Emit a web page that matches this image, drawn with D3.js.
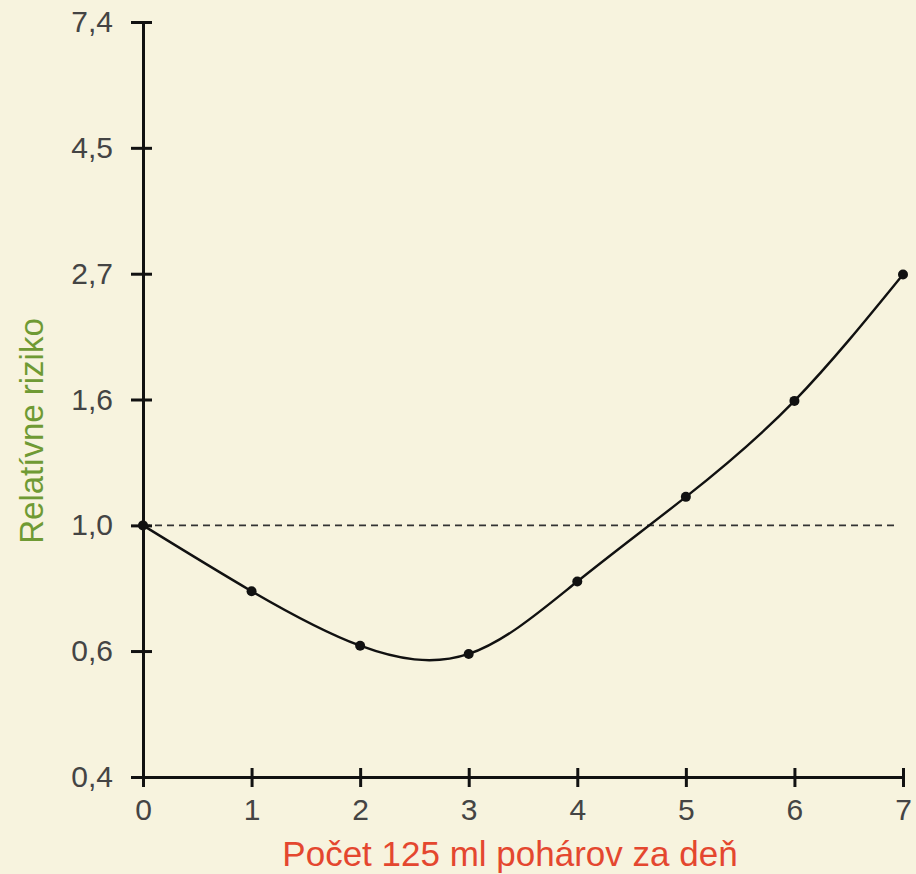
<!DOCTYPE html>
<html><head><meta charset="utf-8">
<script src="https://cdn.jsdelivr.net/npm/d3@7"></script>
<style>
html,body{margin:0;padding:0;background:#f7f3de;}
svg{display:block;}
</style></head>
<body>
<svg id="chart" width="916" height="874"></svg>
<script>
const glasses = [0, 1, 2, 3, 4, 5, 6, 7];
const relativeRisk = [1.0, 0.77, 0.62, 0.60, 0.80, 1.12, 1.64, 2.71];
const yTickValues = [0.368, 0.607, 1.0, 1.649, 2.718, 4.482, 7.389];
const yTickLabels = ["0,4", "0,6", "1,0", "1,6", "2,7", "4,5", "7,4"];
const xTickLabels = ["0", "1", "2", "3", "4", "5", "6", "7"];
const referenceRisk = 1.0;

const svg = d3.select("#chart");
const font = "'Liberation Sans', Arial, sans-serif";

const x = d3.scaleLinear().domain([0, 7]).range([143, 903]);
const y = d3.scaleLog().domain([yTickValues[0], yTickValues[yTickValues.length - 1]]).range([777, 22]);

svg.append("rect").attr("width", 916).attr("height", 874).attr("fill", "#f7f3de");

svg.append("line")
  .attr("x1", x(0)).attr("x2", 898)
  .attr("y1", y(referenceRisk)).attr("y2", y(referenceRisk))
  .attr("stroke", "#333").attr("stroke-width", 1.6)
  .attr("stroke-dasharray", "7,5");

const line = d3.line()
  .x((d, i) => x(glasses[i]))
  .y(d => y(d))
  .curve(d3.curveNatural);
svg.append("path")
  .datum(relativeRisk)
  .attr("d", line)
  .attr("fill", "none").attr("stroke", "#111").attr("stroke-width", 2.4);

svg.selectAll("circle.pt").data(relativeRisk).enter().append("circle")
  .attr("class", "pt")
  .attr("cx", (d, i) => x(glasses[i]))
  .attr("cy", d => y(d))
  .attr("r", 5).attr("fill", "#111");

const yAxis = d3.axisLeft(y)
  .tickValues(yTickValues)
  .tickFormat((d, i) => yTickLabels[i])
  .tickSizeInner(12).tickSizeOuter(0).tickPadding(14);
const gy = svg.append("g").attr("transform", `translate(${x(0)},0)`).call(yAxis);
gy.select(".domain").attr("stroke", "#111").attr("stroke-width", 3);
gy.selectAll(".tick line").attr("stroke", "#111").attr("stroke-width", 3).attr("x2", 9).attr("x1", -12);
gy.selectAll(".tick text").attr("font-family", font).attr("font-size", 30).attr("fill", "#444").attr("x", -30);

const xAxis = d3.axisBottom(x)
  .tickValues(glasses)
  .tickFormat((d, i) => xTickLabels[i])
  .tickSizeInner(10).tickSizeOuter(0).tickPadding(14);
const gx = svg.append("g").attr("transform", `translate(0,${y(yTickValues[0])})`).call(xAxis);
gx.select(".domain").attr("stroke", "#111").attr("stroke-width", 3);
gx.selectAll(".tick line").attr("stroke", "#111").attr("stroke-width", 3).attr("y1", -9).attr("y2", 10);
gx.selectAll(".tick text").attr("font-family", font).attr("font-size", 30).attr("fill", "#444").attr("dy", "0.85em").attr("y", 17);

svg.append("text")
  .attr("transform", "translate(43,431) rotate(-90)")
  .attr("text-anchor", "middle")
  .attr("font-family", font).attr("font-size", 33)
  .attr("fill", "#6f9a34")
  .text("Relatívne riziko");

svg.append("text")
  .attr("x", 510).attr("y", 866)
  .attr("text-anchor", "middle")
  .attr("font-family", font).attr("font-size", 35)
  .attr("fill", "#e4472f")
  .text("Počet 125 ml pohárov za deň");
</script>
</body></html>
